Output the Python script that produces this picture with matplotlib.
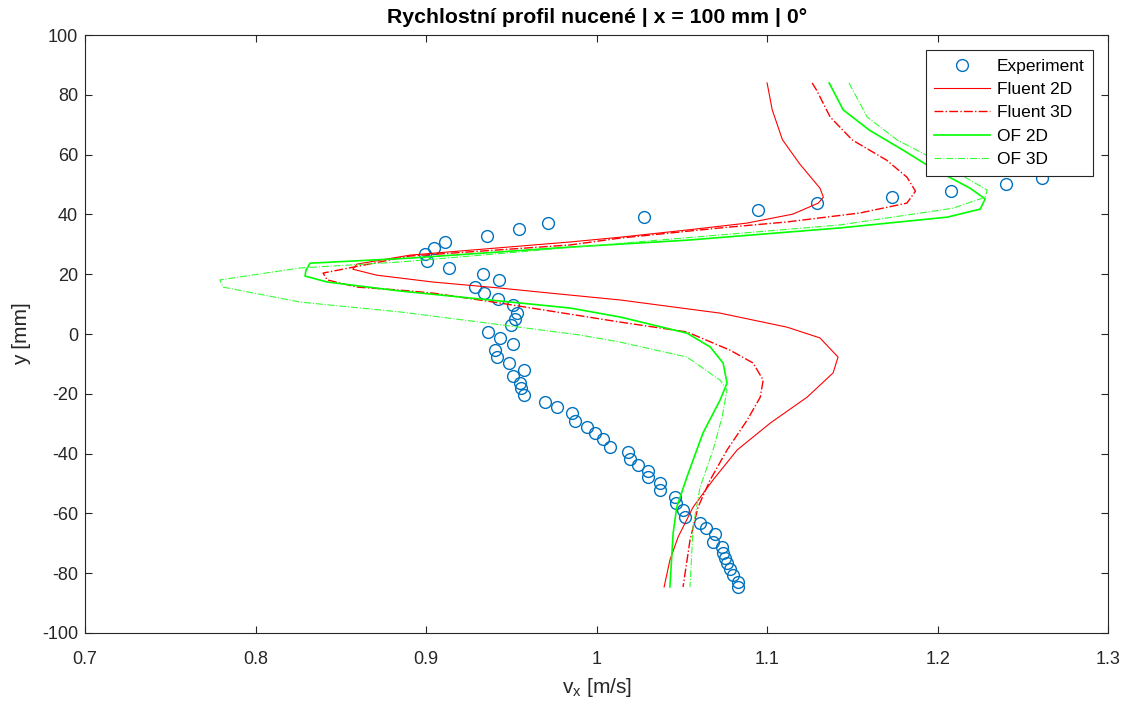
import matplotlib.pyplot as plt

plt.rcParams['font.family'] = ['Liberation Sans', 'DejaVu Sans']
plt.rcParams['axes.unicode_minus'] = False

# Experiment
exp_vx = [1.261, 1.240, 1.208, 1.173, 1.129, 1.0947, 1.028, 0.9716, 0.9545, 0.936,
          0.911, 0.9047, 0.8994, 0.9006, 0.9135, 0.9334, 0.9428, 0.9287, 0.934, 0.9422,
          0.951, 0.9534, 0.952, 0.950, 0.9364, 0.9434, 0.951, 0.9405, 0.9416, 0.9487,
          0.9575, 0.951, 0.955, 0.9557, 0.9575, 0.970, 0.9768, 0.9856, 0.9874, 0.9944,
          0.999, 1.0038, 1.0079, 1.0185, 1.0197, 1.0243, 1.0302, 1.0302, 1.0372, 1.0372,
          1.046, 1.0466, 1.0507, 1.0519, 1.0607, 1.0642, 1.0695, 1.0683, 1.0736, 1.0742,
          1.0754, 1.0765, 1.0783, 1.080, 1.083, 1.083]
exp_y = [52.2, 50.2, 47.8, 45.8, 43.8, 41.5, 39.3, 37.1, 35.1, 32.8,
         30.8, 28.8, 26.8, 24.4, 22.1, 20.1, 18.1, 15.7, 13.7, 11.7,
         9.7, 7.0, 5.0, 3.0, 0.7, -1.3, -3.3, -5.4, -7.7, -9.7,
         -12.0, -14.0, -16.4, -18.1, -20.4, -22.7, -24.4, -26.4, -29.1, -31.1,
         -33.1, -35.1, -37.8, -39.5, -41.8, -43.8, -45.8, -47.8, -49.8, -52.2,
         -54.5, -56.5, -58.9, -61.2, -63.2, -64.9, -66.9, -69.6, -71.2, -73.2,
         -74.9, -76.6, -78.6, -80.6, -82.9, -84.6]

# Fluent 2D
f2_vx = [1.100, 1.103, 1.109, 1.119, 1.131, 1.133, 1.130, 1.115, 1.088, 1.053, 1.014,
         0.9845, 0.8906, 0.873, 0.8595, 0.857, 0.871, 0.904, 0.943, 0.9727, 1.0138,
         1.0724, 1.1117, 1.131, 1.1416, 1.1387, 1.1235, 1.1018, 1.0824, 1.0683, 1.0566,
         1.0478, 1.043, 1.0396]
f2_y = [84.0, 75.0, 65.0, 57.0, 48.8, 45.8, 43.8, 40.1, 37.1, 34.8, 32.4,
        30.8, 26.4, 24.7, 23.4, 21.7, 19.7, 17.4, 15.4, 13.7, 11.4,
        7.0, 2.3, -1.3, -7.7, -13.0, -21.1, -29.8, -38.8, -48.8, -57.9,
        -67.9, -75.6, -84.6]

# Fluent 3D
f3_vx = [1.1264, 1.129, 1.137, 1.150, 1.170, 1.182, 1.187, 1.182, 1.1545, 1.1117, 1.0724,
         1.0138, 0.9845, 0.8906, 0.8396, 0.842, 0.8595, 0.8847, 0.904, 0.943, 1.0138,
         1.053, 1.0783, 1.0918, 1.0977, 1.096, 1.0883, 1.0765, 1.0666, 1.0595, 1.0548,
         1.0507]
f3_y = [84.0, 81.6, 72.6, 64.9, 58.2, 52.5, 47.8, 43.8, 40.5, 37.5, 35.5,
        32.1, 29.8, 26.1, 20.4, 18.1, 15.7, 14.7, 13.7, 10.4, 4.0,
        0.7, -5.4, -9.7, -15.4, -21.1, -28.8, -38.8, -48.8, -57.9, -68.9,
        -84.6]

# OF 2D
o2_vx = [1.1364, 1.1446, 1.160, 1.1798, 1.1956, 1.219, 1.2279, 1.225, 1.2056, 1.1428,
         1.053, 0.9845, 0.8906, 0.832, 0.8296, 0.829, 0.842, 0.8847, 0.9845, 1.0138,
         1.053, 1.0666, 1.0742, 1.0765, 1.0724, 1.0624, 1.053, 1.047, 1.0449, 1.043]
o2_y = [84.0, 75.0, 68.2, 61.5, 55.9, 48.8, 45.2, 41.8, 39.1, 35.5,
        31.4, 29.1, 25.4, 23.7, 21.4, 19.4, 17.4, 14.4, 8.7, 5.7,
        0.3, -4.3, -9.7, -16.4, -22.1, -33.1, -47.8, -57.9, -66.6, -84.6]

# OF 3D
o3_vx = [1.148, 1.1587, 1.1763, 1.1956, 1.229, 1.228, 1.209, 1.1428, 1.0566, 0.8847,
         0.826, 0.779, 0.781, 0.826, 0.8847, 0.9082, 0.990, 1.0138, 1.053, 1.0724,
         1.0765, 1.0736, 1.0683, 1.0607, 1.0566, 1.0548]
o3_y = [84.0, 72.6, 64.9, 59.2, 48.2, 45.8, 42.1, 36.5, 32.4, 24.1,
        22.1, 18.1, 15.7, 10.7, 7.4, 5.7, -0.3, -2.7, -7.7, -15.4,
        -18.7, -27.8, -38.8, -51.2, -64.5, -84.6]

fig = plt.figure(figsize=(11.25, 7.02), dpi=100)
ax = fig.add_axes([0.0756, 0.0983, 0.9094, 0.8517])

ax.plot(exp_vx, exp_y, 'o', mfc='none', mec='#0072BD', ms=8.5, mew=1.0, label='Experiment')
ax.plot(f2_vx, f2_y, '-', color='#FF0000', lw=0.8, label='Fluent 2D')
ax.plot(f3_vx, f3_y, '-.', color='#FF0000', lw=1.0, label='Fluent 3D')
ax.plot(o2_vx, o2_y, '-', color='#00FF00', lw=1.2, label='OF 2D')
ax.plot(o3_vx, o3_y, '-.', color='#33FF33', lw=0.8, label='OF 3D')

ax.set_xlim(0.7, 1.3)
ax.set_ylim(-100, 100)
ax.set_xticks([0.7, 0.8, 0.9, 1.0, 1.1, 1.2, 1.3])
ax.set_xticklabels(['0.7', '0.8', '0.9', '1', '1.1', '1.2', '1.3'])
ax.set_yticks(range(-100, 101, 20))
ax.tick_params(direction='in', length=5, labelsize=13, colors='#262626', top=True, right=True)
ax.tick_params(axis='x', pad=13)
ax.tick_params(axis='y', pad=5)
for s in ax.spines.values():
    s.set_color('#262626')
    s.set_linewidth(0.8)

ax.set_xlabel('v$_\\mathregular{x}$ [m/s]', fontsize=15, color='#262626', labelpad=6)
ax.set_ylabel('y [mm]', fontsize=15, color='#262626', labelpad=8)
ax.set_title('Rychlostní profil nucené | x = 100 mm | 0°', fontsize=15.3, fontweight='bold', pad=9)

leg = ax.legend(loc='upper right', fontsize=12.5, fancybox=False, framealpha=1,
                edgecolor='#262626', borderaxespad=0.85, handlelength=3.2,
                labelspacing=0.47, borderpad=0.5, handletextpad=0.4)
leg.get_frame().set_linewidth(0.8)

plt.savefig('out.png', dpi=100)
plt.close()
